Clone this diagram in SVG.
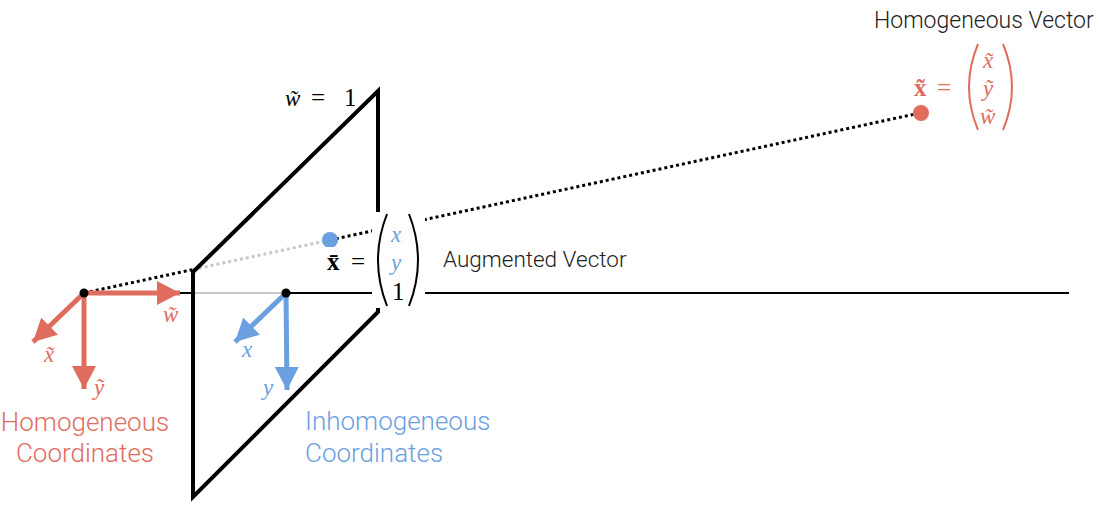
<svg xmlns="http://www.w3.org/2000/svg" width="1099" height="509" viewBox="0 0 1099 509">
<defs>
<style>
.lbl{font-family:Roboto,"Liberation Sans",sans-serif;font-weight:300}
.m{font-family:"Liberation Serif","DejaVu Serif",serif;font-style:italic;font-size:23px}
.mu{font-family:"Liberation Serif","DejaVu Serif",serif;font-size:25px}
.red{fill:#E06C5E}
.blue{fill:#6A9FE0}
.ra{stroke:#E06C5E;stroke-width:5;fill:none}
.ba{stroke:#6A9FE0;stroke-width:5;fill:none}
.par{fill:none;stroke-width:2}
</style>
<marker id="hr" markerUnits="userSpaceOnUse" markerWidth="26" markerHeight="26" refX="23" refY="12" orient="auto" viewBox="0 0 26 26"><path d="M0,0 L23,12 L0,24 z" fill="#E06C5E"/></marker>
<marker id="hb" markerUnits="userSpaceOnUse" markerWidth="26" markerHeight="26" refX="23" refY="12" orient="auto" viewBox="0 0 26 26"><path d="M0,0 L23,12 L0,24 z" fill="#6A9FE0"/></marker>
</defs>
<g id="connectors">
<line x1="84" y1="293" x2="193" y2="293" stroke="#000" stroke-width="2"/>
<line x1="193" y1="293" x2="286" y2="293" stroke="#c8c8c8" stroke-width="2"/>
<line x1="286" y1="293" x2="1069" y2="293" stroke="#000" stroke-width="2"/>
<line x1="84" y1="293" x2="193" y2="269.5" stroke="#000" stroke-width="3" stroke-dasharray="3,3"/>
<line x1="193" y1="269.5" x2="330" y2="240" stroke="#c8c8c8" stroke-width="3" stroke-dasharray="3,3"/>
<line x1="330" y1="240" x2="920" y2="113" stroke="#000" stroke-width="3" stroke-dasharray="3,3"/>
</g>
<g id="plane">
<path d="M193,272 L378,91 L378,312 L193,497 Z" fill="none" stroke="#000" stroke-width="4" stroke-linejoin="miter"/>
</g>
<g id="homog-point">
<circle cx="921" cy="113" r="8" fill="#E06C5E"/>
</g>
<g id="aug-point">
<circle cx="330" cy="240" r="8" fill="#6A9FE0"/>
</g>
<g id="aug-matrix">
<rect x="372" y="212" width="53" height="96" fill="#fff"/>
<rect x="322" y="247" width="52" height="24" fill="#fff"/>
<text class="mu" x="327" y="270" font-weight="bold">x̄</text>
<text class="mu" x="351" y="270">=</text>
<path class="par" stroke="#000" d="M387,214 Q369,260 387,306"/>
<path class="par" stroke="#000" d="M409,214 Q427,260 409,306"/>
<text class="m blue" x="391" y="242">x</text>
<text class="m blue" x="391" y="270">y</text>
<text class="mu" x="392" y="300">1</text>
<text class="lbl" x="443" y="267" font-size="22.5" fill="#222">Augmented Vector</text>
</g>
<g id="homog-matrix">
<text class="mu red" x="914" y="96" font-weight="bold">x̃</text>
<text class="mu red" x="937" y="96">=</text>
<path class="par" stroke="#E06C5E" d="M978,44 Q960,87 978,130"/>
<path class="par" stroke="#E06C5E" d="M1003,44 Q1021,87 1003,130"/>
<text class="m red" x="983" y="68">x̃</text>
<text class="m red" x="983" y="96">ỹ</text>
<text class="m red" x="980" y="124">w̃</text>
<text class="lbl" x="874" y="28" font-size="23" fill="#222">Homogeneous Vector</text>
</g>
<g id="plane-label">
<text class="m" x="285" y="106">w̃</text>
<text class="mu" x="311" y="106">=</text>
<text class="mu" x="344" y="106">1</text>
</g>
<g id="homog-coords">
<line class="ra" x1="84" y1="293" x2="180" y2="293" marker-end="url(#hr)"/>
<line class="ra" x1="84" y1="293" x2="33" y2="342" marker-end="url(#hr)"/>
<line class="ra" x1="84" y1="293" x2="84" y2="389" marker-end="url(#hr)"/>
<circle cx="84" cy="293" r="4.5" fill="#000"/>
<text class="m red" x="163" y="322">w̃</text>
<text class="m red" x="44" y="362">x̃</text>
<text class="m red" x="94" y="395">ỹ</text>
<text class="lbl red" font-size="26" x="85" y="431" text-anchor="middle">Homogeneous</text>
<text class="lbl red" font-size="26" x="85" y="462" text-anchor="middle">Coordinates</text>
</g>
<g id="inhomog-coords">
<line class="ba" x1="286" y1="293" x2="235" y2="342" marker-end="url(#hb)"/>
<line class="ba" x1="286" y1="293" x2="287" y2="390" marker-end="url(#hb)"/>
<circle cx="286" cy="293" r="4.5" fill="#000"/>
<text class="m blue" x="242" y="357">x</text>
<text class="m blue" x="263" y="395">y</text>
<text class="lbl blue" font-size="26" x="305" y="430">Inhomogeneous</text>
<text class="lbl blue" font-size="26" x="305" y="462">Coordinates</text>
</g>
</svg>
